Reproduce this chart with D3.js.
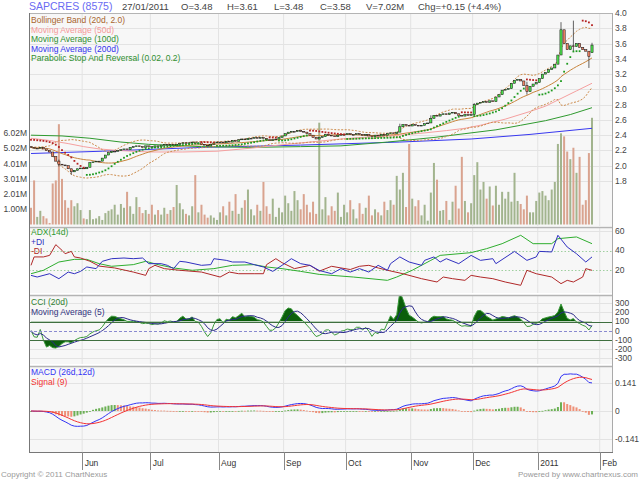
<!DOCTYPE html>
<html>
<head>
<meta charset="utf-8">
<script src="https://cdn.jsdelivr.net/npm/d3@7"></script>
<style>
  body { margin: 0; background: #fff; }
  text { font-family: "Liberation Sans", Arial, sans-serif; }
</style>
</head>
<body>
<svg id="chart" width="640" height="480"></svg>
<script>
// daily closes, 6 May 2010 .. 27 Jan 2011
var closes = [
  2.24, 2.23, 2.23, 2.24, 2.22, 2.20, 2.18, 2.12, 2.06, 2.02,
  2.01, 2.00, 1.96, 1.92, 1.94, 1.96, 1.97, 1.96, 1.98, 2.04,
  2.05, 2.06, 2.06, 2.10, 2.14, 2.17, 2.19, 2.19, 2.20, 2.21,
  2.22, 2.21, 2.24, 2.25, 2.26, 2.25, 2.24, 2.26, 2.25, 2.24,
  2.26, 2.25, 2.27, 2.28, 2.27, 2.28, 2.27, 2.28, 2.29, 2.30,
  2.29, 2.30, 2.31, 2.29, 2.30, 2.28, 2.27, 2.26, 2.28, 2.30,
  2.31, 2.31, 2.30, 2.32, 2.31, 2.33, 2.32, 2.34, 2.35, 2.34,
  2.36, 2.36, 2.37, 2.36, 2.37, 2.36, 2.34, 2.33, 2.34, 2.35,
  2.37, 2.39, 2.42, 2.44, 2.45, 2.45, 2.46, 2.45, 2.44, 2.42,
  2.40, 2.37, 2.35, 2.37, 2.38, 2.41, 2.40, 2.39, 2.38, 2.40,
  2.41, 2.41, 2.42, 2.41, 2.41, 2.42, 2.41, 2.40, 2.41, 2.39,
  2.38, 2.40, 2.39, 2.41, 2.40, 2.42, 2.43, 2.42, 2.44, 2.51,
  2.54, 2.53, 2.52, 2.54, 2.53, 2.52, 2.53, 2.55, 2.56, 2.62,
  2.66, 2.65, 2.67, 2.68, 2.67, 2.69, 2.70, 2.68, 2.66, 2.65,
  2.67, 2.66, 2.67, 2.80, 2.82, 2.83, 2.84, 2.83, 2.85, 2.84,
  2.90, 2.93, 2.99, 3.00, 3.01, 3.08, 3.12, 3.13, 3.11, 3.05,
  2.97, 3.04, 3.07, 3.09, 3.14, 3.20, 3.22, 3.26, 3.28, 3.33,
  3.45, 3.78, 3.60, 3.52, 3.57, 3.56, 3.60, 3.55, 3.52, 3.50,
  3.43, 3.58
];
var firstOpen = 2.25;
// [index, open] where the open gapped from the previous close
var openGaps = [[181, 3.48]];
// [index, high, low] for candles with visible shadows
var wicks = [
  [9, 2.08, 1.99], [13, 1.96, 1.88], [119, 2.55, 2.44], [129, 2.66, 2.56],
  [143, 2.82, 2.66], [160, 3.10, 2.93], [171, 3.88, 3.45], [175, 3.90, 3.50],
  [180, 3.50, 3.28], [181, 3.61, 3.48]
];
// daily volume, millions
var volumes = [
  1.1, 2.9, 0.5, 0.9, 0.55, 0.4, 0.1, 2.7, 2.9, 6.6,
  3.0, 1.6, 1.1, 1.6, 1.2, 1.4, 0.95, 0.4, 0.35, 0.95,
  0.35, 0.4, 0.55, 0.3, 0.75, 0.9, 1.0, 1.3, 0.65, 1.35,
  1.1, 2.15, 1.2, 0.7, 1.8, 1.15, 0.75, 0.95, 0.7, 1.3,
  0.65, 0.95, 0.65, 1.1, 0.7, 0.95, 1.15, 2.6, 1.4, 1.0,
  0.7, 0.6, 1.2, 3.25, 0.8, 1.3, 0.65, 0.45, 0.6, 0.45,
  0.3, 0.8, 1.2, 0.6, 1.5, 0.9, 2.0, 0.7, 1.1, 1.6,
  2.3, 1.0, 0.6, 1.3, 0.9, 2.8, 1.2, 0.7, 1.7, 0.5,
  1.1, 0.8, 1.9, 1.4, 0.9, 2.2, 1.6, 1.0, 2.0, 1.3,
  0.8, 1.5, 0.7, 6.7, 1.0, 1.8, 0.6, 1.2, 0.9, 2.1,
  0.5, 1.3, 0.8, 1.6, 1.0, 0.4, 1.4, 0.7, 1.1, 1.9,
  0.6, 1.0, 0.8, 0.6, 1.5, 0.95, 1.6, 1.3, 3.2, 2.3,
  3.4, 1.15, 5.3, 1.7, 1.2, 1.6, 0.6, 1.3, 0.25, 2.1,
  4.05, 2.95, 0.9, 0.95, 1.55, 0.3, 1.5, 2.55, 1.05, 4.45,
  1.55, 0.8, 1.4, 3.25, 4.1, 2.3, 2.8, 1.7, 2.5, 1.25,
  2.55, 1.3, 2.15, 1.7, 2.15, 1.5, 3.4, 1.55, 1.35, 1.0,
  1.9, 0.8, 0.8, 1.55, 2.1, 2.2, 1.9, 1.6, 2.3, 2.8,
  5.3, 6.0, 5.8, 4.8, 4.3, 5.05, 3.4, 4.45, 1.3, 1.6,
  4.7, 7.02
];

// moving averages, [index, value]
var ma50 = [[0,2.36],[6,2.33],[12,2.29],[17,2.25],[22,2.22],[28,2.20],[38,2.18],[49,2.18],[60,2.19],[71,2.23],[80,2.27],[90,2.31],[100,2.35],[110,2.38],[119,2.40],[127,2.43],[134,2.46],[140,2.49],[145,2.53],[153,2.61],[161,2.71],[166,2.78],[171,2.88],[176,2.98],[181,3.08]];
var ma100 = [[0,2.40],[10,2.39],[19,2.36],[29,2.31],[38,2.28],[55,2.25],[71,2.24],[87,2.25],[100,2.26],[115,2.31],[130,2.37],[140,2.42],[150,2.47],[158,2.53],[166,2.59],[174,2.67],[181,2.76]];
var ma200 = [[0,2.16],[23,2.19],[55,2.24],[87,2.27],[119,2.31],[142,2.35],[161,2.41],[181,2.49]];
var sarStart = 2.34;

// ADX(14) panel, [index, value]
var adx = [[0,16.2],[4,19.7],[9,28.2],[14,30.9],[18,30.9],[22,26.5],[26,23.8],[33,25.5],[37,28.9],[41,25.5],[46,22.1],[52,19.7],[59,21.4],[65,24.8],[72,25.5],[76,23.1],[81,21.4],[87,18.6],[93,15.5],[104,12.8],[115,9.4],[118,12.8],[123,19.7],[129,29.9],[132,35],[142,37.8],[147,41.9],[152,47],[158,55.6],[162,47],[168,47],[170,52.1],[176,53.9],[181,47]];
var plusDI = [[0,14.5],[2,12.8],[6,16.2],[9,11.1],[12,17.9],[14,16.2],[16,18.6],[18,23.1],[21,21.4],[23,28.9],[26,31.6],[30,32.3],[33,31.6],[36,32.3],[38,26.5],[42,26.5],[44,24.8],[46,21.4],[48,28.9],[50,28.2],[55,24.8],[58,25.5],[59,31.6],[63,29.9],[65,28.2],[69,28.2],[72,25.5],[75,23.1],[78,18.6],[81,24.8],[84,31.6],[87,26.5],[90,24.8],[93,19.5],[97,16.2],[100,21.4],[103,17.9],[106,21.4],[109,17.9],[112,24.8],[115,19.7],[116,26.5],[119,33.4],[122,28.2],[126,24.8],[127,29.9],[130,33.4],[132,28.2],[134,31.6],[138,26.5],[142,35],[145,29.9],[149,31.6],[150,26.5],[156,39.1],[160,29.9],[163,33.4],[164,39.1],[168,38.5],[170,55.6],[173,43.6],[176,36.7],[179,28.2],[181,33.4]];
var minusDI = [[0,24.8],[1,33.4],[4,33.4],[6,35],[8,46],[10,40.2],[11,36.7],[13,39.1],[14,33.4],[16,32.3],[19,29],[22,24],[27,22.1],[33,17.9],[37,14.5],[38,21.4],[40,24.8],[43,21.4],[48,19.7],[55,17.9],[61,12.8],[64,17.9],[67,16.2],[72,16.2],[75,16.2],[76,25.5],[79,31.6],[81,27.5],[85,21.4],[90,24.8],[93,18.8],[97,23.8],[100,22.1],[103,20.5],[106,23.8],[109,24.8],[112,22.1],[115,19.7],[120,16.2],[126,11.1],[131,7.7],[133,12.8],[136,11.1],[140,9.4],[142,14.5],[145,12.8],[149,11.1],[153,7.7],[158,4.3],[160,19.7],[163,16.2],[168,12.8],[171,6],[173,9.4],[175,7.7],[178,12.8],[179,21.4],[181,19.7]];

// axes
var monthStarts = [17, 39, 61, 82, 102, 123, 143, 164, 184];
var monthLabels = ['Jun', 'Jul', 'Aug', 'Sep', 'Oct', 'Nov', 'Dec', '2011', 'Feb'];
var priceTicks = [4.0, 3.8, 3.6, 3.4, 3.2, 3.0, 2.8, 2.6, 2.4, 2.2, 2.0, 1.8];
var volTicks = [1.00, 2.01, 3.01, 4.01, 5.02, 6.02];
var adxTicks = [60, 40, 20];
var cciTicks = [300, 200, 100, 0, -100, -200, -300];
var macdTicks = [0.141, 0, -0.141];

// ---------------------------------------------------------------
var N = closes.length;
var opens = closes.map(function(c, i) { return i === 0 ? firstOpen : closes[i - 1]; });
openGaps.forEach(function(d) { opens[d[0]] = d[1]; });
var highs = closes.map(function(c, i) { return Math.max(c, opens[i]); });
var lows = closes.map(function(c, i) { return Math.min(c, opens[i]); });
wicks.forEach(function(d) {
  highs[d[0]] = Math.max(highs[d[0]], d[1]);
  lows[d[0]] = Math.min(lows[d[0]], d[2]);
});

// Bollinger (20, 2)
var bb = closes.map(function(c, i) {
  var w = closes.slice(Math.max(0, i - 19), i + 1);
  var m = d3.mean(w);
  var sd = Math.sqrt(d3.mean(w, function(v) { return (v - m) * (v - m); }));
  return { i: i, mid: m, up: m + 2 * sd, lo: m - 2 * sd };
});

// Parabolic SAR (0.02, 0.2)
var sar = [];
(function() {
  var up = false, af = 0.02, ep = lows[0], s = sarStart;
  for (var i = 0; i < N; i++) {
    if (i > 0) {
      s = s + af * (ep - s);
      var p2 = i > 1 ? i - 2 : i - 1;
      if (up) s = Math.min(s, lows[i - 1], lows[p2]);
      else s = Math.max(s, highs[i - 1], highs[p2]);
      if (up && lows[i] < s) { up = false; s = ep; ep = lows[i]; af = 0.02; }
      else if (!up && highs[i] > s) { up = true; s = ep; ep = highs[i]; af = 0.02; }
      else if (up && highs[i] > ep) { ep = highs[i]; af = Math.min(af + 0.02, 0.2); }
      else if (!up && lows[i] < ep) { ep = lows[i]; af = Math.min(af + 0.02, 0.2); }
    }
    sar.push({ i: i, v: s, up: up });
  }
})();

// CCI (20) and its 5 day average
var tp = closes.map(function(c, i) { return (highs[i] + lows[i] + c) / 3; });
var cci = tp.map(function(t, i) {
  var w = tp.slice(Math.max(0, i - 19), i + 1);
  var m = d3.mean(w);
  var md = d3.mean(w, function(v) { return Math.abs(v - m); });
  return md > 0 ? (t - m) / (0.015 * md) : 0;
});
var cciMa = cci.map(function(c, i) { return d3.mean(cci.slice(Math.max(0, i - 4), i + 1)); });

// MACD (26, 12, 9)
function ema(arr, n) {
  var k = 2 / (n + 1), out = [];
  arr.forEach(function(v, i) { out.push(i === 0 ? v : out[i - 1] + k * (v - out[i - 1])); });
  return out;
}
var e12 = ema(closes, 12), e26 = ema(closes, 26);
var macd = e12.map(function(v, i) { return v - e26[i]; });
var signal = ema(macd, 9);
var hist = macd.map(function(v, i) { return v - signal[i]; });

// ---------------------------------------------------------------
var svg = d3.select('#chart');
var left = 29, right = 612;
var panels = {
  main: { top: 13, bottom: 226 },
  adx: { top: 227, bottom: 293 },
  cci: { top: 295, bottom: 364 },
  macd: { top: 366, bottom: 452 }
};

var x = d3.scaleLinear().domain([0, N - 1]).range([31, 592]);
var step = x(1) - x(0);
var yPrice = d3.scaleLinear().domain([1.8, 4.0]).range([181, 13]);
var yVol = d3.scaleLinear().domain([0, 6.02]).range([224.5, 133]);
var yAdx = d3.scaleLinear().domain([0, 60]).range([289.5, 231]);
var yCci = d3.scaleLinear().domain([-300, 300]).range([358.3, 303.1]);
var yMacd = d3.scaleLinear().domain([-0.141, 0.141]).range([439, 383]);

var gridColor = '#e3e3e3';
var monthX = monthStarts.map(function(i) { return x(i) - step / 2; });

var defs = svg.append('defs');
Object.keys(panels).forEach(function(k) {
  var p = panels[k];
  svg.append('rect')
    .attr('x', left).attr('y', p.top)
    .attr('width', right - left).attr('height', p.bottom - p.top)
    .attr('fill', '#f7f7f7');
  defs.append('clipPath').attr('id', 'clip-' + k)
    .append('rect')
    .attr('x', left).attr('y', p.top)
    .attr('width', right - left).attr('height', p.bottom - p.top);
  svg.append('g').selectAll('line').data(monthX).enter().append('line')
    .attr('x1', function(d) { return d; }).attr('x2', function(d) { return d; })
    .attr('y1', p.top).attr('y2', p.bottom)
    .attr('stroke', gridColor).attr('stroke-width', 1);
});

function hGrid(ticks, scale, color, dash) {
  svg.append('g').selectAll('line').data(ticks).enter().append('line')
    .attr('x1', left).attr('x2', right)
    .attr('y1', function(d) { return Math.round(scale(d)) + 0.5; })
    .attr('y2', function(d) { return Math.round(scale(d)) + 0.5; })
    .attr('stroke', color || gridColor)
    .attr('stroke-dasharray', dash || null);
}

function rightLabels(ticks, scale, fmt) {
  svg.append('g').selectAll('text').data(ticks).enter().append('text')
    .attr('x', 615).attr('y', function(d) { return scale(d); })
    .attr('dy', '0.35em')
    .attr('font-size', 8.5).attr('fill', '#444')
    .text(fmt);
}

function panelLine(g, data, xf, yf, color, width, dash) {
  g.append('path').datum(data)
    .attr('fill', 'none').attr('stroke', color)
    .attr('stroke-width', width || 1)
    .attr('stroke-dasharray', dash || null)
    .attr('d', d3.line().x(xf).y(yf));
}

function legend(items, x0, y0, gap) {
  svg.append('g').selectAll('text').data(items).enter().append('text')
    .attr('x', x0).attr('y', function(d, i) { return y0 + i * gap; })
    .attr('font-size', 8.5)
    .attr('fill', function(d) { return d[1]; })
    .text(function(d) { return d[0]; });
}

var px = function(d) { return x(d[0]); };

// ---------- main panel ----------
hGrid(priceTicks, yPrice);
var gMain = svg.append('g').attr('clip-path', 'url(#clip-main)');

gMain.append('g').selectAll('rect').data(volumes).enter().append('rect')
  .attr('x', function(d, i) { return x(i) - 1; })
  .attr('width', 2)
  .attr('y', function(d) { return yVol(d); })
  .attr('height', function(d) { return yVol(0) - yVol(d); })
  .attr('fill', function(d, i) { return closes[i] >= opens[i] ? '#a2b48e' : '#d9a38f'; });

panelLine(gMain, ma200, px, function(d) { return yPrice(d[1]); }, '#3838f0', 1);
panelLine(gMain, ma100, px, function(d) { return yPrice(d[1]); }, '#2f9a2f', 1);
panelLine(gMain, ma50, px, function(d) { return yPrice(d[1]); }, '#f5a0a0', 1);
panelLine(gMain, bb, function(d) { return x(d.i); }, function(d) { return yPrice(d.up); }, '#cc8a4a', 1, '2,1.5');
panelLine(gMain, bb, function(d) { return x(d.i); }, function(d) { return yPrice(d.lo); }, '#cc8a4a', 1, '2,1.5');
panelLine(gMain, bb, function(d) { return x(d.i); }, function(d) { return yPrice(d.mid); }, '#c8843c', 1);

var candle = gMain.append('g').selectAll('g').data(closes).enter().append('g');
candle.append('line')
  .attr('x1', function(d, i) { return x(i); }).attr('x2', function(d, i) { return x(i); })
  .attr('y1', function(d, i) { return yPrice(highs[i]); })
  .attr('y2', function(d, i) { return yPrice(lows[i]); })
  .attr('stroke', '#222').attr('stroke-width', 0.7);
candle.append('rect')
  .attr('x', function(d, i) { return x(i) - 1.1; })
  .attr('width', 2.2)
  .attr('y', function(d, i) { return yPrice(Math.max(d, opens[i])); })
  .attr('height', function(d, i) { return Math.max(0.8, yPrice(Math.min(d, opens[i])) - yPrice(Math.max(d, opens[i]))); })
  .attr('fill', function(d, i) { return d > opens[i] ? '#4ee24e' : (d < opens[i] ? '#f08466' : '#999'); })
  .attr('stroke', '#111').attr('stroke-width', 0.5);

gMain.append('g').selectAll('rect').data(sar).enter().append('rect')
  .attr('x', function(d) { return x(d.i) - 0.9; })
  .attr('y', function(d) { return yPrice(d.v) - 0.9; })
  .attr('width', 1.8).attr('height', 1.8)
  .attr('fill', function(d) { return d.up ? '#1f9a1f' : '#b52222'; });

rightLabels(priceTicks, yPrice, function(d) { return d.toFixed(1); });
svg.append('g').selectAll('text').data(volTicks).enter().append('text')
  .attr('x', 27).attr('y', function(d) { return yVol(d); })
  .attr('dy', '0.35em').attr('text-anchor', 'end')
  .attr('font-size', 8.5).attr('fill', '#444')
  .text(function(d) { return d.toFixed(2) + 'M'; });

legend([
  ['Bollinger Band (20d, 2.0)', '#a8652e'],
  ['Moving Average (50d)', '#f59a9a'],
  ['Moving Average (100d)', '#2f8f2f'],
  ['Moving Average (200d)', '#3333ee'],
  ['Parabolic Stop And Reversal (0.02, 0.2)', '#2f8f2f']
], 31, 23, 9.6);

// ---------- ADX panel ----------
hGrid([60], yAdx);
hGrid([40, 20], yAdx, '#9fcf9f', '1.5,2');
var gAdx = svg.append('g').attr('clip-path', 'url(#clip-adx)');
var yA = function(d) { return yAdx(d[1]); };
panelLine(gAdx, adx, px, yA, '#2fae2f', 1);
panelLine(gAdx, minusDI, px, yA, '#b02828', 1);
panelLine(gAdx, plusDI, px, yA, '#3030c0', 1);
rightLabels(adxTicks, yAdx, function(d) { return d; });
legend([['ADX(14d)', '#2f9a2f'], ['+DI', '#3030c0'], ['-DI', '#b02828']], 31, 235, 9.5);

// ---------- CCI panel ----------
hGrid([300, 200, -200, -300], yCci);
var gCci = svg.append('g').attr('clip-path', 'url(#clip-cci)');
var cciPts = cci.map(function(v, i) { return [i, v]; });
defs.append('clipPath').attr('id', 'clip-cci-hi').append('rect')
  .attr('x', left).attr('y', panels.cci.top).attr('width', right - left)
  .attr('height', yCci(100) - panels.cci.top);
defs.append('clipPath').attr('id', 'clip-cci-lo').append('rect')
  .attr('x', left).attr('y', yCci(-100)).attr('width', right - left)
  .attr('height', panels.cci.bottom - yCci(-100));
gCci.append('path').datum(cciPts)
  .attr('clip-path', 'url(#clip-cci-hi)').attr('fill', '#0b5f0b')
  .attr('d', d3.area().x(px).y0(yCci(100)).y1(function(d) { return yCci(d[1]); }));
gCci.append('path').datum(cciPts)
  .attr('clip-path', 'url(#clip-cci-lo)').attr('fill', '#0b5f0b')
  .attr('d', d3.area().x(px).y0(yCci(-100)).y1(function(d) { return yCci(d[1]); }));
hGrid([100, -100], yCci, '#3f6f3f');
hGrid([0], yCci, '#8a8ad0', '3,2');
panelLine(gCci, cciPts, px, function(d) { return yCci(d[1]); }, '#3a9a3a', 1);
panelLine(gCci, cciMa.map(function(v, i) { return [i, v]; }), px, function(d) { return yCci(d[1]); }, '#2a2a88', 1);
rightLabels(cciTicks, yCci, function(d) { return d; });
legend([['CCI (20d)', '#2f7f2f'], ['Moving Average (5)', '#33337f']], 31, 305, 9.8);

// ---------- MACD panel ----------
hGrid(macdTicks, yMacd);
var gMacd = svg.append('g').attr('clip-path', 'url(#clip-macd)');
gMacd.append('g').selectAll('rect').data(hist).enter().append('rect')
  .attr('x', function(d, i) { return x(i) - 1; })
  .attr('width', 2)
  .attr('y', function(d) { return Math.min(yMacd(d), yMacd(0)); })
  .attr('height', function(d) { return Math.max(0.8, Math.abs(yMacd(d) - yMacd(0))); })
  .attr('fill', function(d, i) { return i > 0 && d < hist[i - 1] ? '#ee9077' : '#6cb055'; });
panelLine(gMacd, macd.map(function(v, i) { return [i, v]; }), px, function(d) { return yMacd(d[1]); }, '#3434f4', 1);
panelLine(gMacd, signal.map(function(v, i) { return [i, v]; }), px, function(d) { return yMacd(d[1]); }, '#f43434', 1);
rightLabels(macdTicks, yMacd, function(d) { return d; });
legend([['MACD (26d,12d)', '#3434f4'], ['Signal (9)', '#f43434']], 31, 375, 9.8);

// ---------- frame ----------
Object.keys(panels).forEach(function(k) {
  var p = panels[k];
  svg.append('line').attr('x1', left).attr('x2', right)
    .attr('y1', p.top + 0.5).attr('y2', p.top + 0.5)
    .attr('stroke', '#b4b4b4').attr('stroke-width', k === 'main' ? 1 : 1.6);
});
svg.append('line').attr('x1', left + 0.5).attr('x2', left + 0.5)
  .attr('y1', panels.main.top).attr('y2', panels.macd.bottom)
  .attr('stroke', '#777');
svg.append('line').attr('x1', right + 0.5).attr('x2', right + 0.5)
  .attr('y1', panels.main.top).attr('y2', panels.macd.bottom)
  .attr('stroke', '#aaa');
svg.append('line').attr('x1', left).attr('x2', right + 1)
  .attr('y1', panels.macd.bottom + 0.5).attr('y2', panels.macd.bottom + 0.5)
  .attr('stroke', '#777');

// x axis
var xAxis = svg.append('g');
xAxis.selectAll('line').data(monthX).enter().append('line')
  .attr('x1', function(d) { return Math.round(d) + 0.5; })
  .attr('x2', function(d) { return Math.round(d) + 0.5; })
  .attr('y1', panels.macd.bottom).attr('y2', 470)
  .attr('stroke', '#888');
xAxis.selectAll('text').data(monthLabels).enter().append('text')
  .attr('x', function(d, i) { return monthX[i] + 2.5; })
  .attr('y', 466)
  .attr('font-size', 8.5).attr('fill', '#333')
  .text(function(d) { return d; });

// header
var head = svg.append('g').attr('font-size', 9.5).attr('fill', '#444');
head.append('text').attr('x', 29).attr('y', 10).attr('font-size', 10.5).attr('fill', '#6a6af2').text('SAPCRES (8575)');
head.append('text').attr('x', 122).attr('y', 10).text('27/01/2011');
head.append('text').attr('x', 181).attr('y', 10).text('O=3.48');
head.append('text').attr('x', 227).attr('y', 10).text('H=3.61');
head.append('text').attr('x', 274).attr('y', 10).text('L=3.48');
head.append('text').attr('x', 320).attr('y', 10).text('C=3.58');
head.append('text').attr('x', 366).attr('y', 10).text('V=7.02M');
head.append('text').attr('x', 418).attr('y', 10).text('Chg=+0.15 (+4.4%)');

svg.append('text').attr('x', 1).attr('y', 477).attr('font-size', 8).attr('fill', '#999')
  .text('Copyright \u00a9 2011 ChartNexus');
svg.append('text').attr('x', 638).attr('y', 477).attr('text-anchor', 'end')
  .attr('font-size', 8).attr('fill', '#999')
  .text('Powered by www.chartnexus.com');
</script>
</body>
</html>
